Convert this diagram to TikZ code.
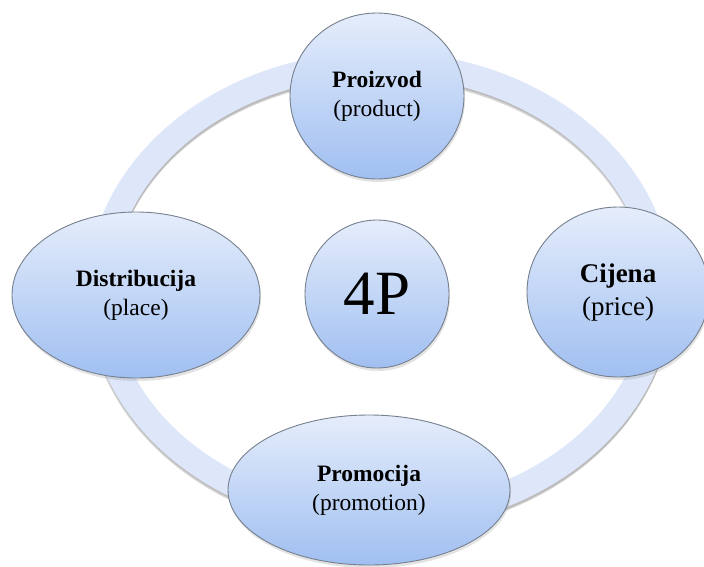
\documentclass[tikz,border=0pt]{standalone}
\usepackage{fontspec}
\setmainfont{Liberation Serif}
\usetikzlibrary{shapes.geometric,shadows}
\definecolor{bubtop}{RGB}{229,237,251}
\definecolor{bubbot}{RGB}{160,191,241}
\definecolor{bubline}{RGB}{118,128,142}
\definecolor{ringcol}{RGB}{221,231,249}
\begin{document}
\begin{tikzpicture}[x=1pt,y=-1pt,
  bubble/.style={ellipse, draw=bubline, line width=0.9pt, top color=bubtop, bottom color=bubbot,
    inner sep=0pt, align=center,
    drop shadow={opacity=0.22, shadow xshift=1pt, shadow yshift=-3pt}},
  lbl/.style={font=\fontsize{23.5}{29}\selectfont},
  ringline/.style={line width=25pt, draw=ringcol},
  ringshadow/.style={line width=25pt, draw=black, opacity=0.16}]
\useasboundingbox (0,0) rectangle (704,566);
\fill[white] (0,0) rectangle (704,566);
% ring
\coordinate (rc) at (380,291);
\draw[ringshadow] ([yshift=-3.5pt]rc) ellipse [x radius=280, y radius=227];
\draw[ringshadow, opacity=0.12] ([yshift=-2pt,xshift=0.5pt]rc) ellipse [x radius=280, y radius=227];
\draw[ringline] (rc) ellipse [x radius=280, y radius=227];
% nodes
\node[bubble, lbl, minimum width=174pt, minimum height=166pt] (prod) at (377,96)
  {\textbf{Proizvod}\\(product)};
\node[bubble, lbl, minimum width=248pt, minimum height=166pt] (dist) at (136,295)
  {\textbf{Distribucija}\\(place)};
\node[bubble, font=\fontsize{27}{33}\selectfont, minimum width=182pt, minimum height=170pt] (price) at (618,292)
  {\textbf{Cijena}\\(price)};
\node[bubble, lbl, minimum width=282pt, minimum height=150pt] (promo) at (369,490)
  {\textbf{Promocija}\\(promotion)};
\node[bubble, font=\fontsize{63}{70}\selectfont, minimum width=144pt, minimum height=148pt] (core) at (377,294)
  {4P};
\end{tikzpicture}
\end{document}
